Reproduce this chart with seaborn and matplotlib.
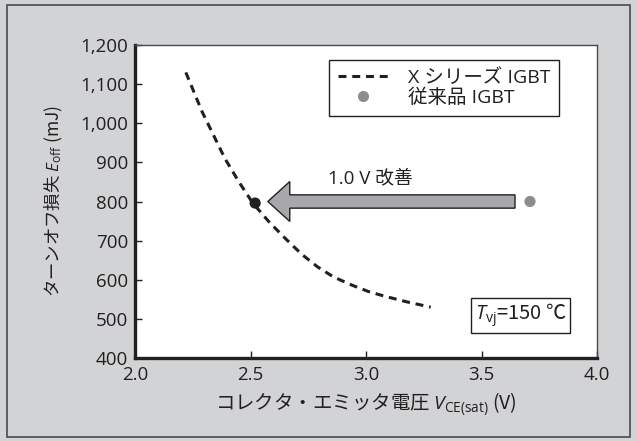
import numpy as np
import pandas as pd
import matplotlib
matplotlib.use("Agg")
import matplotlib.pyplot as plt
import seaborn as sns
from matplotlib.lines import Line2D
from matplotlib.patches import Rectangle
from matplotlib.ticker import FuncFormatter

# data
vce_x = [2.22, 2.29, 2.39, 2.45, 2.51, 2.58, 2.65, 2.72, 2.79, 2.86, 2.94, 3.01, 3.08, 3.18, 3.28]
eoff_x = [1130, 1030, 909, 850, 796, 748, 706, 666, 633, 607, 586, 570, 558, 543, 530]
new_pt = (2.52, 796)
old_pt = (3.71, 800)
x_ticks = [2.0, 2.5, 3.0, 3.5, 4.0]
y_ticks = [400, 500, 600, 700, 800, 900, 1000, 1100, 1200]

BG = "#d2d3d5"
DARK = "#231f20"
GRAY_DOT = "#8c8d8f"
ARROW_FILL = "#a7a8aa"
JP = "Noto Sans CJK JP"

sns.set_style("ticks")
plt.rcParams["font.family"] = ["Open Sans", JP, "DejaVu Sans"]
plt.rcParams["mathtext.fontset"] = "custom"
plt.rcParams["mathtext.rm"] = "Open Sans"
plt.rcParams["mathtext.it"] = "Open Sans:italic"
plt.rcParams["font.size"] = 12

fig = plt.figure(figsize=(6.37, 4.41), dpi=100, facecolor=BG)
fig.patches.append(Rectangle((7 / 637, 4 / 441), 623 / 637, 432 / 441, transform=fig.transFigure,
                             fill=False, edgecolor="#4a4a4a", lw=1.2))
ax = fig.add_axes([135 / 637, 1 - 358 / 441, 462 / 637, 313 / 441])
ax.set_facecolor("white")

df = pd.DataFrame({"vce": vce_x, "eoff": eoff_x})
sns.lineplot(data=df, x="vce", y="eoff", ax=ax, color=DARK, lw=2.2,
             dashes=False, linestyle=(0, (2.6, 1.9)))

# improvement arrow
ax.arrow(3.645, 800, 2.575 - 3.645, 0, width=34, head_width=102, head_length=0.095,
         length_includes_head=True, facecolor=ARROW_FILL, edgecolor=DARK, lw=1.0, zorder=3)

pts = pd.DataFrame({"vce": [new_pt[0], old_pt[0]], "eoff": [new_pt[1], old_pt[1]],
                    "kind": ["new", "old"]})
sns.scatterplot(data=pts, x="vce", y="eoff", hue="kind", palette={"new": DARK, "old": GRAY_DOT},
                s=65, edgecolor="none", ax=ax, legend=False, zorder=4)

ax.text(3.02, 858, "1.0 V 改善", ha="center", va="center", fontsize=13.5, color=DARK)
# mathtext strings: the plain parts use the text's own family, so give them the JP font
ax.text(3.67, 509, r"$\it{T}$$_{\rm vj}$=150 ℃", ha="center", va="center", fontsize=14.5, color=DARK,
        family=JP,
        bbox=dict(boxstyle="square,pad=0.18", facecolor="white", edgecolor=DARK, lw=1.0))

ax.set_xlim(2.0, 4.0)
ax.set_ylim(400, 1200)
ax.set_xticks(x_ticks)
ax.set_yticks(y_ticks)
ax.xaxis.set_major_formatter(FuncFormatter(lambda v, p: f"{v:.1f}"))
ax.yaxis.set_major_formatter(FuncFormatter(lambda v, p: f"{int(v):,}"))
ax.tick_params(direction="in", length=5, width=1.0, color=DARK, labelsize=13.5,
               labelcolor=DARK)
ax.tick_params(axis="y", pad=5)
ax.tick_params(axis="x", pad=6)

for side in ["left", "bottom"]:
    ax.spines[side].set_linewidth(2.4)
    ax.spines[side].set_color(DARK)
for side in ["top", "right"]:
    ax.spines[side].set_visible(True)
    ax.spines[side].set_linewidth(1.0)
    ax.spines[side].set_color("#4a4a4a")

ax.set_xlabel(r"コレクタ・エミッタ電圧 $\it{V}$$_{\rm CE(sat)}$ (V)", fontsize=14, color=DARK,
              labelpad=4, family=JP)
ax.set_ylabel(r"ターンオフ損失 $\it{E}$$_{\rm off}$ (mJ)", fontsize=12.5, color=DARK,
              labelpad=11, family=JP)

handles = [
    Line2D([], [], color=DARK, lw=2.2, linestyle=(0, (2.6, 1.9))),
    Line2D([], [], color=GRAY_DOT, marker="o", markersize=7, linestyle="none"),
]
leg = ax.legend(handles, ["X シリーズ IGBT", "従来品 IGBT"], loc="upper right",
                bbox_to_anchor=(0.918, 0.952), borderaxespad=0, fancybox=False,
                framealpha=1, edgecolor=DARK, fontsize=14, handlelength=2.6,
                handletextpad=1.0, borderpad=0.45, labelspacing=0.1)
leg.get_frame().set_linewidth(1.0)
for t in leg.get_texts():
    t.set_color(DARK)

fig.savefig("out.png", dpi=100, facecolor=BG)
